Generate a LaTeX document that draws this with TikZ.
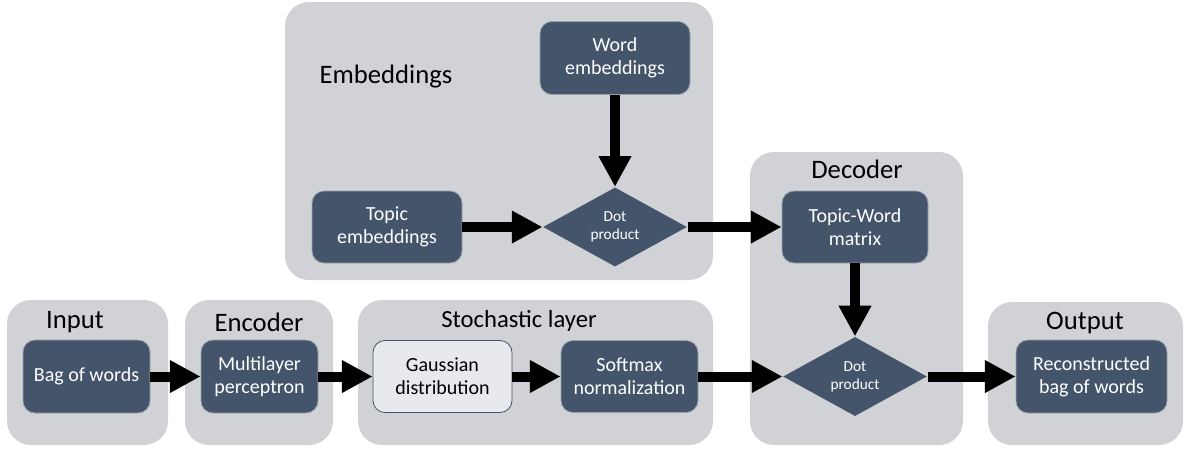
\documentclass[tikz,border=0pt]{standalone}
\usepackage{fontspec}
\setmainfont{Carlito}
\usetikzlibrary{shapes.geometric}
\usetikzlibrary{arrows.meta}
\definecolor{slate}{RGB}{68,84,106}
\definecolor{grouppanel}{RGB}{209,210,214}
\definecolor{lightbox}{RGB}{232,233,236}
\tikzset{every picture/.style={line width=0.75pt}}
\tikzset{
  panel/.style={fill=grouppanel, rounded corners=18pt},
  title/.style={inner sep=0.75pt, font=\fontsize{20}{24}\selectfont},
  block/.style={draw=slate!55!white, line width=0.6pt, fill=slate, rounded corners=9pt, text=white, align=center, inner sep=2pt, font=\fontsize{15}{17.5}\selectfont},
  pale/.style={block, fill=lightbox, draw=slate, text=black},
  dotprod/.style={diamond, fill=slate, text=white, align=center, inner sep=0pt, minimum width=108pt, minimum height=52pt, font=\fontsize{11.5}{13.5}\selectfont},
  fat/.style={line width=7.5pt, -{Triangle[length=23pt,width=23pt]}}
}

\begin{document}
\begin{tikzpicture}[x=0.75pt,y=0.75pt,yscale=-1,xscale=1]
\useasboundingbox (0,0) rectangle (1188,451);

%Shape: panels
\fill[panel] (285,2) rectangle (713,280);
\fill[panel] (750,152) rectangle (963,445);
\fill[panel] (7,300) rectangle (168,445);
\fill[panel] (185,300) rectangle (333,445);
\fill[panel] (358,300) rectangle (713,445);
\fill[panel] (988,302) rectangle (1183,445);

% Text Node: panel titles
\node[title] (tEmb) at (386,77) {Embeddings};
\node[title] (tDec) at (857,169) {Decoder};
\node[title] (tIn) at (75,322) {Input};
\node[title] (tEnc) at (259,322) {Encoder};
\node[title, font=\fontsize{18.5}{22}\selectfont] (tSto) at (519,321) {Stochastic layer};
\node[title] (tOut) at (1085,323) {Output};

%Shape: blocks
\node[block, minimum width=112.5pt, minimum height=54.75pt] (word) at (615,58) {Word\\embeddings};
\node[block, minimum width=112.5pt, minimum height=54pt] (topic) at (387,227) {Topic\\embeddings};
\node[dotprod] (dotA) at (615,227) {Dot\\product};
\node[block, minimum width=109.5pt, minimum height=54pt] (twm) at (855,227) {Topic-Word\\matrix};
\node[dotprod, minimum height=50pt] (dotB) at (855,376.5) {Dot\\product};
\node[block, minimum width=95.25pt, minimum height=54.75pt] (bow) at (86.5,376.5) {Bag of words};
\node[block, minimum width=87.75pt, minimum height=54.75pt] (mlp) at (259.5,376.5) {Multilayer\\perceptron};
\node[pale, minimum width=104.25pt, minimum height=54pt] (gauss) at (442.5,376.5) {Gaussian\\distribution};
\node[block, minimum width=102.75pt, minimum height=54pt] (soft) at (629.5,376.5) {Softmax\\normalization};
\node[block, minimum width=113.25pt, minimum height=54.75pt] (recon) at (1091.5,376.5) {Reconstructed\\bag of words};

%Straight Lines: arrows
\draw[fat] (word) -- (dotA);
\draw[fat] (topic) -- (dotA);
\draw[fat] (dotA) -- (twm);
\draw[fat] (twm) -- (dotB);
\draw[fat] (bow) -- (mlp);
\draw[fat] (mlp) -- (gauss);
\draw[fat] (gauss) -- (soft);
\draw[fat] (soft) -- (dotB);
\draw[fat] (dotB) -- (recon);

\end{tikzpicture}
\end{document}
